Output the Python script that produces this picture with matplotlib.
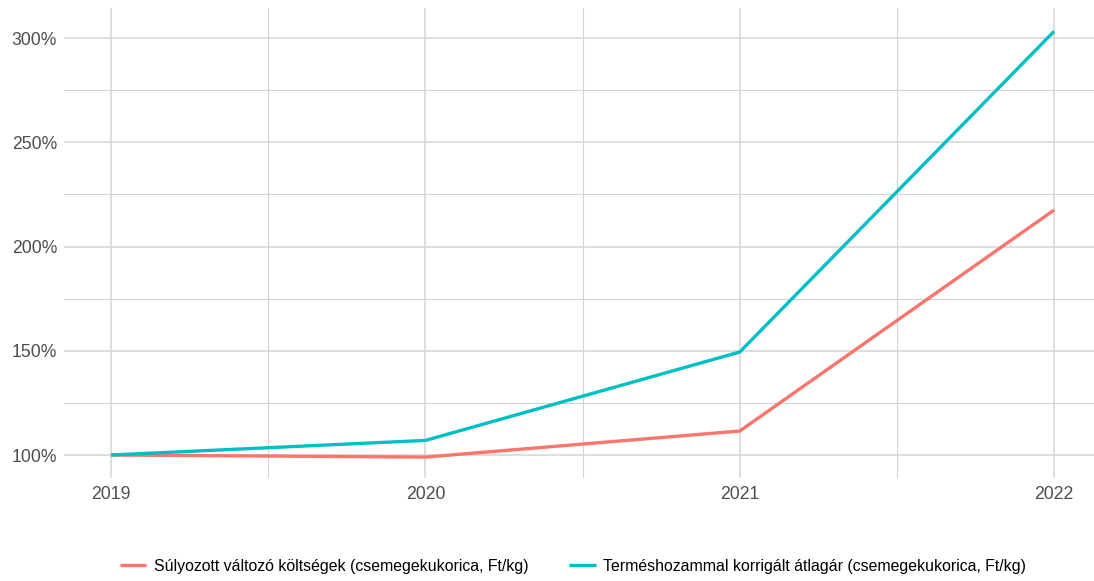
import matplotlib

matplotlib.use("Agg")
import matplotlib.pyplot as plt  # noqa: E402
from matplotlib.ticker import FuncFormatter, MultipleLocator  # noqa: E402

# chart data (index, 2019 = 100%)
years = [2019, 2020, 2021, 2022]
costs = [100.0, 99.0, 111.5, 217.5]
price = [100.0, 107.0, 149.4, 303.2]
labels = [
    "Súlyozott változó költségek (csemegekukorica, Ft/kg)",
    "Terméshozammal korrigált átlagár (csemegekukorica, Ft/kg)",
]
colors = ["#F8766D", "#00BFC4"]

plt.rcParams["font.family"] = ["Liberation Sans", "DejaVu Sans"]

fig = plt.figure(figsize=(10.94, 5.81), dpi=100)
ax = fig.add_axes([64 / 1094, 1 - 478 / 581, 1 - 64 / 1094, (478 - 8) / 581])

for ys, lab, col in zip([costs, price], labels, colors):
    ax.plot(years, ys, color=col, lw=2.4, label=lab, solid_capstyle="butt")

ax.set_xlim(2018.85, 2022.127)
ax.set_ylim(88.97, 314.4)
ax.xaxis.set_major_locator(MultipleLocator(1))
ax.xaxis.set_minor_locator(MultipleLocator(0.5))
ax.yaxis.set_major_locator(MultipleLocator(50))
ax.yaxis.set_minor_locator(MultipleLocator(25))
ax.yaxis.set_major_formatter(FuncFormatter(lambda v, _: f"{v:.0f}%"))
ax.xaxis.set_major_formatter(FuncFormatter(lambda v, _: f"{v:.0f}"))

ax.grid(which="major", color="#d4d4d4", lw=1.1)
ax.grid(which="minor", color="#d4d4d4", lw=0.8)
ax.set_axisbelow(True)
for s in ax.spines.values():
    s.set_visible(False)
ax.tick_params(which="both", length=0, labelsize=12.7, labelcolor="#4d4d4d")
ax.tick_params(axis="x", pad=6)
ax.tick_params(axis="y", pad=5)

fig.legend(
    loc="center",
    bbox_to_anchor=(573 / 1094, 1 - 566 / 581),
    ncol=2,
    frameon=False,
    handlelength=1.7,
    handletextpad=0.5,
    columnspacing=2.5,
    prop={"size": 11.4},
)

fig.savefig("out.png", dpi=100)
